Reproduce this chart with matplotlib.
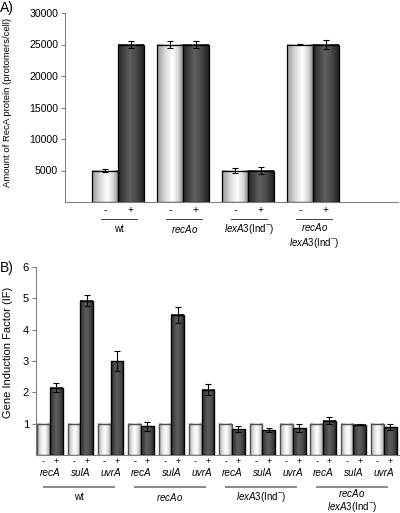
import numpy as np
import matplotlib
matplotlib.use("Agg")
import matplotlib.pyplot as plt
from matplotlib.colors import LinearSegmentedColormap
from matplotlib.transforms import blended_transform_factory

plt.rcParams["font.family"] = ["Liberation Sans", "DejaVu Sans"]
plt.rcParams["mathtext.fontset"] = "custom"
plt.rcParams["mathtext.rm"] = "Liberation Sans"
plt.rcParams["mathtext.it"] = "Liberation Sans:italic"
plt.rcParams["mathtext.bf"] = "Liberation Sans:bold"

# ---- data: panel A (RecA protomers per cell) ----
strains_a = ["wt", "$\\mathit{recAo}$", "$\\mathit{lexA3}$(Ind$^{-}$)",
             "$\\mathit{recAo}$\n$\\mathit{lexA3}$(Ind$^{-}$)"]
reca_minus = [5000, 25000, 5000, 25000]
reca_minus_err = [300, 600, 450, 60]
reca_plus = [25000, 25000, 5000, 25000]
reca_plus_err = [500, 600, 500, 700]
yticks_a = [5000, 10000, 15000, 20000, 25000, 30000]

# ---- data: panel B (gene induction factor) ----
genes = ["recA", "sulA", "uvrA"] * 4
strains_b = ["wt", "$\\mathit{recAo}$", "$\\mathit{lexA3}$(Ind$^{-}$)",
             "$\\mathit{recAo}$\n$\\mathit{lexA3}$(Ind$^{-}$)"]
if_minus = [1, 1, 1, 1, 1, 1, 1, 1, 1, 1, 1, 1]
if_plus = [2.15, 4.93, 3.0, 0.91, 4.47, 2.08, 0.82, 0.79, 0.86, 1.1, 0.97, 0.89]
if_plus_err = [0.15, 0.18, 0.32, 0.13, 0.26, 0.18, 0.1, 0.06, 0.13, 0.1, 0.01, 0.09]
yticks_b = [1, 2, 3, 4, 5, 6]

light_a = LinearSegmentedColormap.from_list(
    "la", [(0, "#9a9a9a"), (0.3, "#d8d8d8"), (0.6, "#ffffff"), (0.85, "#d0d0d0"), (1, "#8c8c8c")])
dark_a = LinearSegmentedColormap.from_list(
    "da", [(0, "#262626"), (0.45, "#606060"), (0.7, "#4a4a4a"), (1, "#222222")])
light_b = LinearSegmentedColormap.from_list(
    "lb", [(0, "#a8a8a8"), (0.3, "#e6e6e6"), (0.55, "#ffffff"), (0.8, "#d8d8d8"), (1, "#9c9c9c")])
dark_b = LinearSegmentedColormap.from_list(
    "db", [(0, "#2e2e2e"), (0.45, "#5e5e5e"), (0.7, "#505050"), (1, "#2a2a2a")])

GRAD = np.linspace(0, 1, 64).reshape(1, -1)


def gradient_bar(ax, x, h, w, cmap, edge, lw):
    ax.imshow(GRAD, cmap=cmap, extent=[x - w / 2, x + w / 2, 0, h],
              aspect="auto", interpolation="bilinear", zorder=2)
    ax.bar(x, h, w, facecolor="none", edgecolor=edge, linewidth=lw, zorder=3)


def style_axes(ax):
    for s in ["top", "right"]:
        ax.spines[s].set_visible(False)
    for s in ["left", "bottom"]:
        ax.spines[s].set_color("#808080")
        ax.spines[s].set_linewidth(0.8)
    ax.tick_params(axis="y", direction="out", length=3, width=0.8, color="#808080", pad=2)
    ax.set_xticks([])


fig = plt.figure(figsize=(4.0, 5.13), dpi=100)
W, H = 400.0, 513.0

# ---------------- panel A ----------------
axA = fig.add_axes([65 / W, 1 - 202 / H, 333 / W, 189 / H])
wa = 0.4
for i in range(len(strains_a)):
    xm, xp = i - wa / 2, i + wa / 2
    gradient_bar(axA, xm, reca_minus[i], wa, light_a, "black", 0.9)
    gradient_bar(axA, xp, reca_plus[i], wa, dark_a, "black", 0.9)
axA.errorbar([i - wa / 2 for i in range(4)], reca_minus, yerr=reca_minus_err, fmt="none",
             ecolor="black", elinewidth=0.8, capsize=2.5, capthick=0.8, zorder=4)
axA.errorbar([i + wa / 2 for i in range(4)], reca_plus, yerr=reca_plus_err, fmt="none",
             ecolor="black", elinewidth=0.8, capsize=2.5, capthick=0.8, zorder=4)
axA.set_xlim(-0.815, 4.31)
axA.set_ylim(0, 30000)
axA.set_yticks(yticks_a)
axA.tick_params(axis="y", labelsize=7.6)
style_axes(axA)

trA = blended_transform_factory(axA.transData, axA.transAxes)
for i, name in enumerate(strains_a):
    axA.text(i - wa / 2, -0.042, "-", transform=trA, ha="center", va="center", fontsize=7.5)
    axA.text(i + wa / 2, -0.042, "+", transform=trA, ha="center", va="center", fontsize=7.5)
    axA.plot([i - 0.26, i + 0.3], [-0.09, -0.09], transform=trA, color="#404040",
             lw=0.7, clip_on=False)
    y = -0.177 if "\n" in name else -0.143
    axA.text(i + 0.02, y, name, transform=trA, ha="center", va="center", fontsize=7,
             linespacing=1.25)

fig.text(8 / W, 1 - 102 / H, "Amount of RecA protein (protomers/cell)", rotation=90,
         ha="center", va="center", fontsize=6.8)
fig.text(0 / W, 1 - 8 / H, "A)", ha="left", va="center", fontsize=10)

# ---------------- panel B ----------------
axB = fig.add_axes([36 / W, 1 - 455 / H, 363 / W, 188 / H])
wb = 0.42
xs = np.arange(len(genes))
for j in xs:
    gradient_bar(axB, j - wb / 2, if_minus[j], wb, light_b, "#505050", 1.0)
    gradient_bar(axB, j + wb / 2, if_plus[j], wb, dark_b, "black", 1.0)
axB.errorbar(xs + wb / 2, if_plus, yerr=if_plus_err, fmt="none", ecolor="black",
             elinewidth=0.8, capsize=2.5, capthick=0.8, zorder=4)
axB.set_xlim(-0.46, 11.5)
axB.set_ylim(0, 6)
axB.set_yticks(yticks_b)
axB.tick_params(axis="y", labelsize=8)
style_axes(axB)

trB = blended_transform_factory(axB.transData, axB.transAxes)
for j in xs:
    axB.text(j - wb / 2, -0.035, "-", transform=trB, ha="center", va="center", fontsize=6.5)
    axB.text(j + wb / 2, -0.035, "+", transform=trB, ha="center", va="center", fontsize=6.5)
    axB.text(j, -0.096, genes[j], transform=trB, ha="center", va="center", fontsize=7.2,
             style="italic")
for g, name in enumerate(strains_b):
    c = 3 * g + 1
    axB.plot([c - 1.2, c + 1.1], [-0.170, -0.170], transform=trB, color="#888888",
             lw=1.4, clip_on=False)
    y = -0.24 if "\n" in name else -0.223
    axB.text(c - 0.05, y, name, transform=trB, ha="center", va="center", fontsize=7,
             linespacing=1.1)

fig.text(8 / W, 1 - 352 / H, "Gene Induction Factor (IF)", rotation=90,
         ha="center", va="center", fontsize=8)
fig.text(0 / W, 1 - 268 / H, "B)", ha="left", va="center", fontsize=10)

fig.savefig("out.png", dpi=100)
